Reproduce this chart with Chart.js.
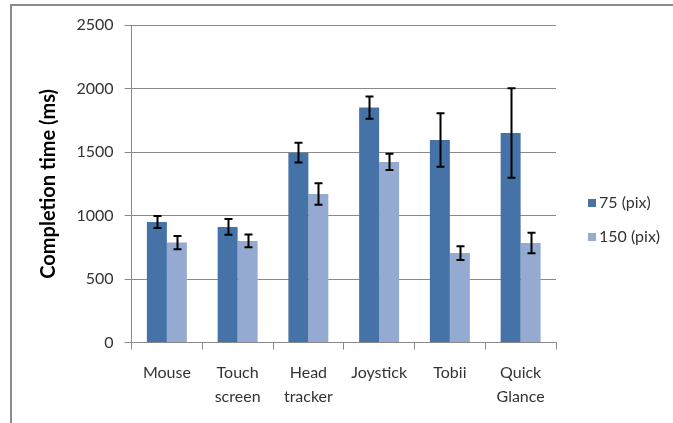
<!DOCTYPE html>
<html>
<head>
<meta charset="utf-8">
<script src="https://cdn.jsdelivr.net/npm/chart.js@4.4.1/dist/chart.umd.min.js"></script>
<style>
  html, body { margin: 0; padding: 0; background: #ffffff; }
  #wrap { position: relative; width: 673px; height: 423px; }
  canvas { display: block; }
</style>
</head>
<body>
<div id="wrap"><canvas id="chart" width="673" height="423"></canvas></div>
<script>
// Input devices compared
const devices = ['Mouse', ['Touch', 'screen'], ['Head', 'tracker'], 'Joystick', 'Tobii', ['Quick', 'Glance']];

// Mean completion time (ms) per target size
const time75 = [950, 910, 1495, 1850, 1595, 1650];
const time150 = [787, 800, 1170, 1422, 705, 784];

// Error bar half-lengths (ms)
const err75 = [47, 62, 78, 87, 210, 353];
const err150 = [52, 50, 84, 64, 54, 81];

// Value axis ticks
const yTicks = [0, 500, 1000, 1500, 2000, 2500];

const seriesLabels = ['75 (pix)', '150 (pix)'];
const seriesColors = ['#4673a7', '#95aad0'];

const FONT = 'Lato, "Open Sans", sans-serif';
const GRID = '#8a8a8a';

// Outer frame line (top and left edges)
const framePlugin = {
  id: 'frame',
  beforeDraw(chart) {
    const c = chart.ctx;
    c.save();
    c.fillStyle = '#ffffff';
    c.fillRect(0, 0, chart.width, chart.height);
    c.strokeStyle = '#8c8c8c';
    c.lineWidth = 2;
    c.beginPath();
    c.moveTo(11, chart.height);
    c.lineTo(11, 5);
    c.lineTo(chart.width, 5);
    c.stroke();
    c.restore();
  }
};

// Error bars drawn from the err arrays through the value scale
const errorBarPlugin = {
  id: 'errorBars',
  afterDatasetsDraw(chart) {
    const c = chart.ctx;
    const y = chart.scales.y;
    const errs = [err75, err150];
    c.save();
    c.strokeStyle = '#000000';
    c.lineWidth = 2;
    chart.data.datasets.forEach((ds, di) => {
      const meta = chart.getDatasetMeta(di);
      meta.data.forEach((bar, i) => {
        const v = ds.data[i];
        const e = errs[di][i];
        const x = Math.round(bar.x) + 0.5;
        const yt = y.getPixelForValue(v + e);
        const yb = y.getPixelForValue(v - e);
        const cap = 4;
        c.beginPath();
        c.moveTo(x, yt); c.lineTo(x, yb);
        c.moveTo(x - cap, yt); c.lineTo(x + cap, yt);
        c.moveTo(x - cap, yb); c.lineTo(x + cap, yb);
        c.stroke();
      });
    });
    c.restore();
  }
};

// Legend at the right of the plot
const legendPlugin = {
  id: 'sideLegend',
  afterDraw(chart) {
    const c = chart.ctx;
    const x0 = 588;
    const rows = [203, 237];
    c.save();
    c.font = '16px ' + FONT;
    c.textBaseline = 'middle';
    c.textAlign = 'left';
    chart.data.datasets.forEach((ds, i) => {
      const cy = rows[i];
      c.fillStyle = ds.backgroundColor;
      c.fillRect(x0, cy - 4, 8, 8);
      c.fillStyle = '#333333';
      c.fillText(ds.label, x0 + 11, cy);
    });
    c.restore();
  }
};

new Chart(document.getElementById('chart'), {
  type: 'bar',
  data: {
    labels: devices,
    datasets: [
      { label: seriesLabels[0], data: time75, backgroundColor: seriesColors[0] },
      { label: seriesLabels[1], data: time150, backgroundColor: seriesColors[1] }
    ]
  },
  options: {
    responsive: false,
    animation: false,
    devicePixelRatio: 1,
    layout: { padding: { left: 0, top: 25, right: 117, bottom: 0 } },
    datasets: { bar: { categoryPercentage: 0.565, barPercentage: 1.0 } },
    plugins: {
      legend: { display: false },
      tooltip: { enabled: false }
    },
    scales: {
      x: {
        grid: {
          display: true,
          drawOnChartArea: false,
          drawTicks: true,
          offset: true,
          tickLength: 7,
          color: GRID,
          lineWidth: 1
        },
        border: { display: true, color: GRID, width: 1 },
        ticks: {
          color: '#333333',
          font: { family: FONT, size: 16, lineHeight: 1.45 },
          padding: 12,
          maxRotation: 0,
          autoSkip: false
        },
        afterFit(scale) { scale.height = 80.4; }
      },
      y: {
        min: 0,
        max: 2500,
        afterBuildTicks(scale) { scale.ticks = yTicks.map(v => ({ value: v })); },
        grid: {
          color: GRID,
          lineWidth: 1,
          tickLength: 7,
          drawTicks: true
        },
        border: { display: true, color: GRID, width: 1 },
        ticks: {
          color: '#333333',
          font: { family: FONT, size: 16 },
          padding: 11,
          callback: (v) => String(v)
        },
        title: {
          display: true,
          text: 'Completion time (ms)',
          color: '#000000',
          font: { family: FONT, size: 20, weight: 'bold' },
          padding: { top: 37, bottom: 0 }
        },
        afterFit(scale) { scale.width = 131.5; }
      }
    }
  },
  plugins: [framePlugin, errorBarPlugin, legendPlugin]
});
</script>
</body>
</html>
